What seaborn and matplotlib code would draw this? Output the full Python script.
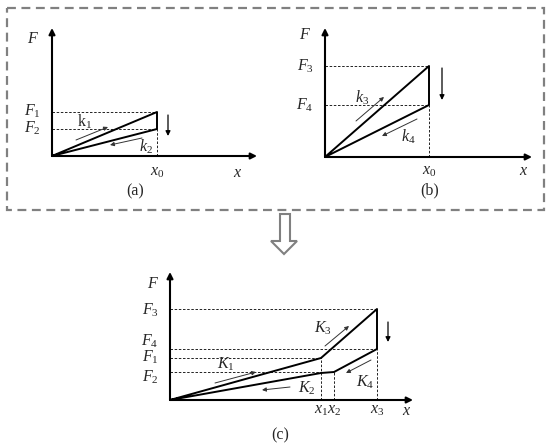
import matplotlib
matplotlib.use('Agg')
import matplotlib.pyplot as plt
import seaborn as sns
from matplotlib.patches import Rectangle, Polygon

# values (panel units, origin at the axes corner)
# (a) unloading at x0: stiffness k1 loading, k2 unloading
a_x = [0, 105, 105, 0]
a_F = [0, 44, 27, 0]
# (b) same with k3 / k4
b_x = [0, 104, 104, 0]
b_F = [0, 91, 52, 0]
# (c) combined curve: x1, x3, x3, x2, x1 then back to origin
c_x = [0, 151, 207, 207, 164, 151, 0]
c_F = [0, 42, 91, 51, 28, 27, 0]

a_levels = {'F1': 44, 'F2': 27}
b_levels = {'F3': 91, 'F4': 52}
c_levels = {'F3': 91, 'F4': 51, 'F1': 42, 'F2': 28}
c_marks = {'x1': (151, 42), 'x2': (164, 28), 'x3': (207, 51)}

W, H = 550, 448
GRAY = '#808080'

sns.set_style('white')
plt.rcParams['mathtext.fontset'] = 'custom'
plt.rcParams['mathtext.rm'] = 'Liberation Serif'
plt.rcParams['mathtext.it'] = 'Liberation Serif:italic'
plt.rcParams['font.family'] = ['Liberation Serif', 'DejaVu Serif']

fig = plt.figure(figsize=(W / 100, H / 100), dpi=100)

# background layer in pixel units: dashed frame and hollow arrow
bg = fig.add_axes([0, 0, 1, 1])
bg.set_xlim(0, W)
bg.set_ylim(H, 0)
bg.axis('off')
bg.add_patch(Rectangle((7, 8), 537, 202, fill=False, ec=GRAY, lw=1.6,
                       ls=(0, (4, 2.5))))
bg.add_patch(Polygon([(280, 214), (290, 214), (290, 241), (297, 241),
                      (284, 254), (271, 241), (280, 241)],
                     closed=True, fc='white', ec=GRAY, lw=1.5))


def panel_axes(ox, oy, xmax, ymax, pad=30):
    '''axes whose data units are pixels, origin at (ox, oy) of the figure'''
    ax = fig.add_axes([(ox - pad) / W, (H - oy - pad) / H,
                       (xmax + 2 * pad) / W, (ymax + 2 * pad) / H])
    ax.set_xlim(-pad, xmax + pad)
    ax.set_ylim(-pad, ymax + pad)
    ax.axis('off')
    # F and x axes with arrow heads
    for end in [(xmax, 0), (0, ymax)]:
        ax.annotate('', xy=end, xytext=(0, 0),
                    arrowprops=dict(arrowstyle='-|>', color='k', lw=1.5,
                                    mutation_scale=9, shrinkA=0, shrinkB=0))
    return ax


def small_arrow(ax, start, end):
    ax.annotate('', xy=end, xytext=start,
                arrowprops=dict(arrowstyle='-|>', color='#333333', lw=0.7,
                                mutation_scale=6, shrinkA=0, shrinkB=0))


def drop_arrow(ax, x, y0, y1):
    ax.annotate('', xy=(x, y1), xytext=(x, y0),
                arrowprops=dict(arrowstyle='-|>', color='k', lw=0.9,
                                mutation_scale=7, shrinkA=0, shrinkB=0))


def guide(ax, xs, ys):
    ax.plot(xs, ys, color='k', lw=0.6, ls=(0, (3, 2)))


FS = 11.5

#(a)
ax = panel_axes(52, 156, 205, 128)
sns.lineplot(x=a_x, y=a_F, sort=False, estimator=None, color='k', lw=1.4, ax=ax)
for name, val in a_levels.items():
    guide(ax, [0, a_x[1]], [val, val])
    ax.text(-20, val + 1, f'${name[0]}_{name[1]}$', fontsize=FS, ha='center', va='center')
guide(ax, [a_x[1], a_x[1]], [0, a_F[2]])
ax.text(-19, 117, '$F$', fontsize=FS, ha='center', va='center')
ax.text(a_x[1], -16, '$x_0$', fontsize=FS, ha='center', va='center')
ax.text(186, -17, '$x$', fontsize=FS, ha='center', va='center')
ax.text(33, 34, r'$\mathrm{k}_1$', fontsize=FS, ha='center', va='center')
ax.text(94, 9, '$k_2$', fontsize=FS, ha='center', va='center')
small_arrow(ax, (24, 16), (56, 29))
small_arrow(ax, (90, 18), (58, 11))
drop_arrow(ax, 116, 41, 20)
ax.text(83, -35, '(a)', fontsize=FS, ha='center', va='center')

#(b)
ax = panel_axes(325, 157, 207, 129)
sns.lineplot(x=b_x, y=b_F, sort=False, estimator=None, color='k', lw=1.4, ax=ax)
for name, val in b_levels.items():
    guide(ax, [0, b_x[1]], [val, val])
    ax.text(-20, val, f'${name[0]}_{name[1]}$', fontsize=FS, ha='center', va='center')
guide(ax, [b_x[1], b_x[1]], [0, b_F[2]])
ax.text(-20, 122, '$F$', fontsize=FS, ha='center', va='center')
ax.text(b_x[1], -14, '$x_0$', fontsize=FS, ha='center', va='center')
ax.text(199, -14, '$x$', fontsize=FS, ha='center', va='center')
ax.text(37, 59, '$k_3$', fontsize=FS, ha='center', va='center')
ax.text(83, 20, '$k_4$', fontsize=FS, ha='center', va='center')
small_arrow(ax, (31, 36), (59, 60))
small_arrow(ax, (92, 38), (57, 21))
drop_arrow(ax, 117, 89, 57)
ax.text(105, -33, '(b)', fontsize=FS, ha='center', va='center')

#(c)
ax = panel_axes(170, 400, 243, 128)
sns.lineplot(x=c_x, y=c_F, sort=False, estimator=None, color='k', lw=1.4, ax=ax)
for name, val in c_levels.items():
    xr = c_x[2] if name in ('F3', 'F4') else (c_x[1] if name == 'F1' else c_x[4])
    guide(ax, [0, xr], [val, val])
label_y = {'F3': 90, 'F4': 59, 'F1': 43, 'F2': 23}
for name, val in label_y.items():
    ax.text(-20, val, f'${name[0]}_{name[1]}$', fontsize=FS, ha='center', va='center')
for name, (xv, top) in c_marks.items():
    guide(ax, [xv, xv], [0, top])
    ax.text(xv, -10, f'${name[0]}_{name[1]}$', fontsize=FS, ha='center', va='center')
ax.text(-17, 116, '$F$', fontsize=FS, ha='center', va='center')
ax.text(237, -11, '$x$', fontsize=FS, ha='center', va='center')
ax.text(56, 36, '$K_1$', fontsize=FS, ha='center', va='center')
ax.text(137, 12, '$K_2$', fontsize=FS, ha='center', va='center')
ax.text(153, 72, '$K_3$', fontsize=FS, ha='center', va='center')
ax.text(195, 18, '$K_4$', fontsize=FS, ha='center', va='center')
small_arrow(ax, (45, 17), (86, 28))
small_arrow(ax, (120, 13), (92, 10))
small_arrow(ax, (155, 54), (179, 74))
small_arrow(ax, (201, 40), (176, 27))
drop_arrow(ax, 218, 78, 58)
ax.text(110, -35, '(c)', fontsize=FS, ha='center', va='center')

fig.savefig('out.png', dpi=100)
